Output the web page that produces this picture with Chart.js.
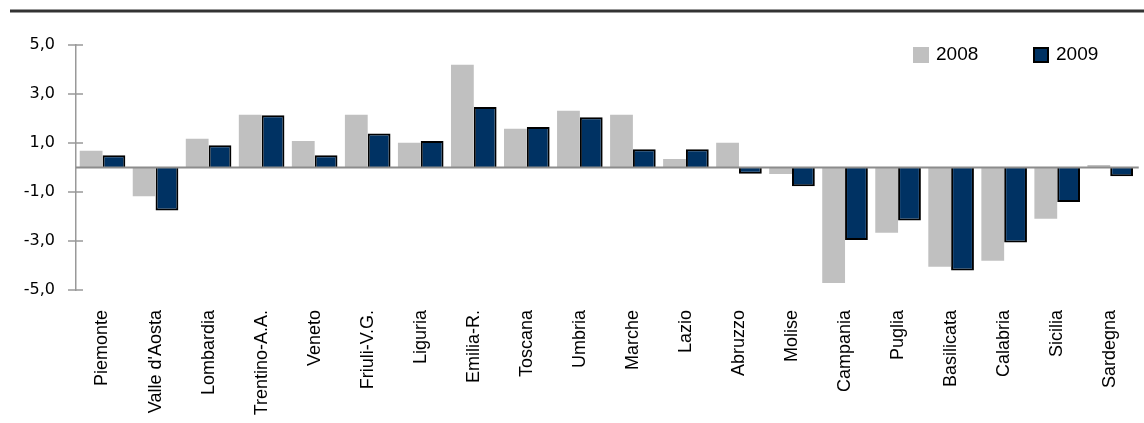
<!DOCTYPE html>
<html>
<head>
<meta charset="utf-8">
<script src="https://cdn.jsdelivr.net/npm/chart.js@4/dist/chart.umd.min.js"></script>
<style>
  html, body { margin: 0; padding: 0; background: #fff; }
  #wrap { width: 1144px; height: 423px; position: relative; }
</style>
</head>
<body>
<div id="wrap"><canvas id="chart"></canvas></div>
<script>
// categorie (regioni)
const REGIONS = ["Piemonte", "Valle d'Aosta", "Lombardia", "Trentino-A.A.", "Veneto", "Friuli-V.G.",
  "Liguria", "Emilia-R.", "Toscana", "Umbria", "Marche", "Lazio", "Abruzzo", "Molise",
  "Campania", "Puglia", "Basilicata", "Calabria", "Sicilia", "Sardegna"];

// valori
const VAL_2008 = [0.68, -1.17, 1.17, 2.15, 1.08, 2.15, 1.01, 4.19, 1.58, 2.32, 2.15, 0.35, 1.01,
  -0.27, -4.71, -2.66, -4.05, -3.81, -2.09, 0.10];
const VAL_2009 = [0.50, -1.75, 0.91, 2.13, 0.50, 1.39, 1.08, 2.47, 1.65, 2.05, 0.74, 0.74, -0.26,
  -0.77, -2.96, -2.16, -4.20, -3.06, -1.41, -0.36];

// assi
const Y_MIN = -5, Y_MAX = 5, Y_STEP = 2;
const SERIES = ["2008", "2009"];

const SANS = "'Liberation Sans', Arial, sans-serif";

// linea in alto, linea dello zero, tacche dell'asse, legenda
const decorations = {
  id: "decorations",
  beforeDraw(chart) {
    const ctx = chart.ctx;
    ctx.save();
    ctx.strokeStyle = "#333";
    ctx.lineWidth = 3;
    ctx.beginPath();
    ctx.moveTo(10, 11);
    ctx.lineTo(chart.width, 11);
    ctx.stroke();
    ctx.restore();
  },
  afterDatasetsDraw(chart) {
    const { ctx, chartArea, scales } = chart;
    const y0 = scales.y.getPixelForValue(0);
    ctx.save();
    ctx.strokeStyle = "#8c8c8c";
    ctx.lineWidth = 2;
    ctx.beginPath();
    ctx.moveTo(chartArea.left, y0);
    ctx.lineTo(chartArea.right + 2, y0);
    ctx.stroke();

    // tacche a croce
    ctx.strokeStyle = "#999";
    ctx.lineWidth = 1.5;
    scales.y.ticks.forEach(t => {
      const py = scales.y.getPixelForValue(t.value);
      ctx.beginPath();
      ctx.moveTo(chartArea.left - 8, py);
      ctx.lineTo(chartArea.left + 7, py);
      ctx.stroke();
    });

    // legenda
    const xs = [913, 1033];
    ctx.font = "19px " + SANS;
    ctx.textBaseline = "middle";
    chart.data.datasets.forEach((ds, i) => {
      const bx = xs[i], by = 47;
      ctx.fillStyle = ds.backgroundColor;
      ctx.fillRect(bx, by, 16, 16);
      if (ds.borderWidth) {
        ctx.strokeStyle = ds.borderColor;
        ctx.lineWidth = 2;
        ctx.strokeRect(bx + 1, by + 1, 14, 14);
      }
      ctx.fillStyle = "#000";
      ctx.fillText(ds.label, bx + 23, by + 8);
    });
    ctx.restore();
  }
};

new Chart(document.getElementById("chart"), {
  type: "bar",
  data: {
    labels: REGIONS,
    datasets: [
      { label: SERIES[0], data: VAL_2008, backgroundColor: "#c0c0c0", borderWidth: 0 },
      { label: SERIES[1], data: VAL_2009, backgroundColor: "#003263", borderColor: "#000", borderWidth: 2 }
    ]
  },
  options: {
    responsive: true,
    maintainAspectRatio: false,
    animation: false,
    layout: { padding: { top: 45, right: 7, left: 0, bottom: 0 } },
    datasets: { bar: { categoryPercentage: 0.86, barPercentage: 1.0 } },
    plugins: { legend: { display: false }, tooltip: { enabled: false } },
    scales: {
      x: {
        grid: { display: false },
        border: { display: false },
        ticks: {
          minRotation: 90, maxRotation: 90, autoSkip: false, padding: 12,
          color: "#000", font: { family: SANS, size: 18 }
        },
        afterFit(s) { s.height = 133; }
      },
      y: {
        min: Y_MIN, max: Y_MAX,
        grid: { display: false },
        border: { display: true, color: "#999", width: 1.5 },
        ticks: {
          stepSize: Y_STEP, padding: 13, color: "#000",
          font: { family: "'DejaVu Sans', sans-serif", size: 16 },
          callback: v => v.toFixed(1).replace(".", ",")
        },
        afterFit(s) { s.width = 76; }
      }
    }
  },
  plugins: [decorations]
});
</script>
</body>
</html>
